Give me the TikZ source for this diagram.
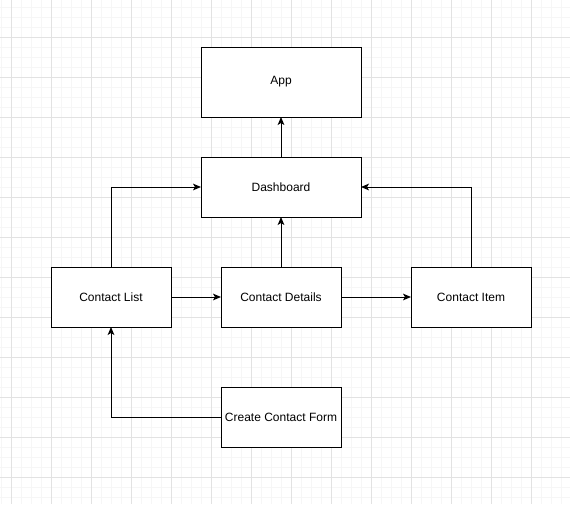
\documentclass[tikz,border=0pt]{standalone}
\usepackage{fontspec}
\setmainfont{Liberation Sans}
\usetikzlibrary{positioning, arrows.meta}

\definecolor{gridminor}{HTML}{F6F6F6}
\definecolor{gridmajor}{HTML}{E2E2E2}

\begin{document}
\begin{tikzpicture}[x=0.75pt, y=-0.75pt, >={Stealth[length=6pt,width=5pt,inset=1.5pt]}, font=\fontsize{9pt}{11pt}\selectfont]%

            \tikzstyle{comp} = [ rectangle, draw = black, line width = 0.75pt, fill = white, minimum width = 90pt, minimum height = 45pt, inner sep = 0pt, outer sep = 0pt]
            \tikzstyle{wide} = [ comp, minimum width = 120pt, minimum height = 52.5pt]
            \tikzstyle{post} = [ ->, line width = 0.75pt, draw = black]
        %%
            \useasboundingbox (0,0) rectangle (570,504);
            %% Grid
            \foreach \gx in {1,11,...,561} \draw[gridminor, line width = 0.6pt] (\gx,0) -- (\gx,504);
            \foreach \gy in {7,17,...,497} \draw[gridminor, line width = 0.6pt] (0,\gy) -- (570,\gy);
            \foreach \gx in {11,51,...,531} \draw[gridmajor, line width = 0.75pt] (\gx,0) -- (\gx,504);
            \foreach \gy in {37,77,...,477} \draw[gridmajor, line width = 0.75pt] (0,\gy) -- (570,\gy);

            \begin{scope}[node distance = 30pt and 37.5pt]%
                %% Top
                \node [wide] (app) at (281,82) {App};
                \node [wide, minimum height = 45pt] (dashboard) [below = 30pt of app] {Dashboard};

                \draw[post] (dashboard) -- (app);

                %% Components
                \node [comp] (details) [below = 37.5pt of dashboard] {Contact Details};
                \node [comp] (list) [left = 37.5pt of details] {Contact List};
                \node [comp] (item) [right = 52.5pt of details] {Contact Item};
                \node [comp] (form) [below = 45pt of details] {Create Contact Form};

                \draw[post] (details) -- (dashboard);
                \draw[post] (list) |- (dashboard);
                \draw[post] (item) |- (dashboard);
                \draw[post] (list) -- (details);
                \draw[post] (details) -- (item);
                \draw[post] (form) -| (list);
            \end{scope}%
        \end{tikzpicture}
\end{document}
